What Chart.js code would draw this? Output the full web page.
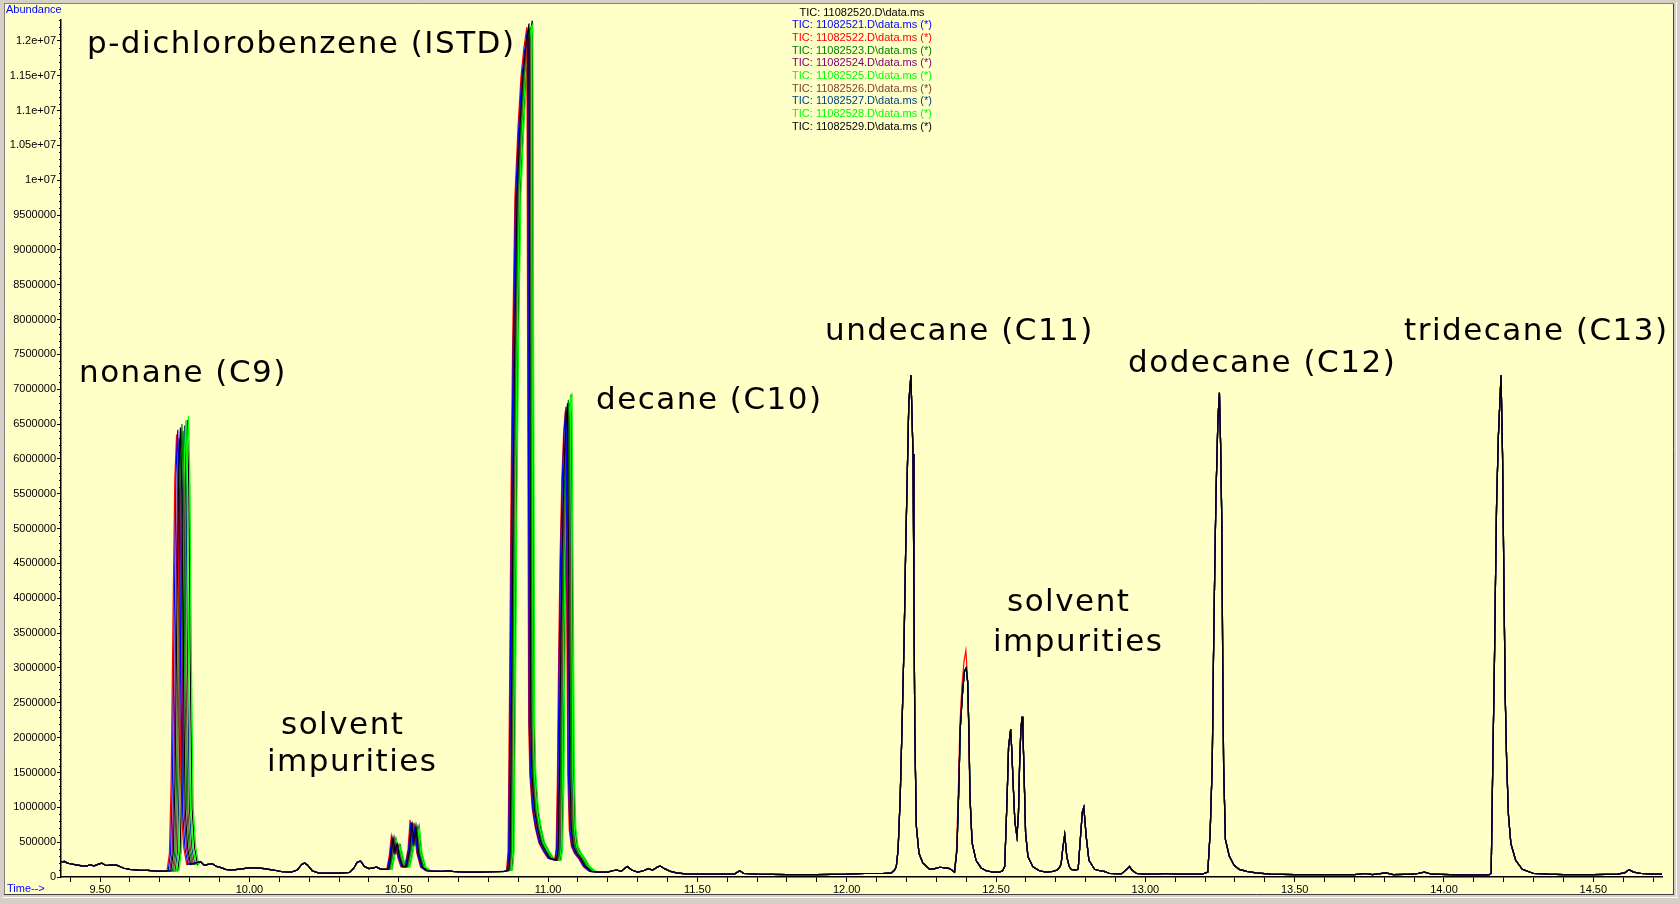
<!DOCTYPE html>
<html>
<head>
<meta charset="utf-8">
<script src="https://cdn.jsdelivr.net/npm/chart.js@4.4.1/dist/chart.umd.min.js"></script>
<style>
html,body{margin:0;padding:0;background:#d4d0c8;}
canvas{display:block;}
</style>
</head>
<body>
<canvas id="c" width="1680" height="904"></canvas>
<script>
// ---------- DATA (time in min, abundance) ----------
const fileIds = ['11082520','11082521','11082522','11082523','11082524','11082525','11082526','11082527','11082528','11082529'];
const traceColors = ['#000000','#0000ff','#ff0000','#008000','#800080','#00ff00','#804030','#004080','#00ff00','#000000'];
const xTickStep = 0.1;
const xLabelStep = 0.5;
const yTickStep = 500000;
const yMinorStep = 100000;

// shared baseline before nonane
const baseLead = [[9.369,2.15e5],[9.38,2.25e5],[9.39,2.0e5],[9.40,1.9e5],[9.42,1.75e5],[9.44,1.6e5],[9.455,1.55e5],[9.465,1.75e5],[9.48,1.6e5],[9.495,1.85e5],[9.505,2.0e5],[9.52,1.65e5],[9.54,1.75e5],[9.555,1.7e5],[9.58,1.25e5],[9.60,1.1e5],[9.63,1.0e5],[9.66,9.5e4],[9.69,8.5e4],[9.715,8.5e4]];

// nonane peak, one array per run
const nonane22 = [[9.724,9e4],[9.732,3.4e5],[9.738,1.4e6],[9.744,3.7e6],[9.750,5.7e6],[9.756,6.35e6],[9.761,5.4e6],[9.766,2.9e6],[9.772,9.5e5],[9.780,4.2e5],[9.790,1.8e5]];
const nonane21 = [[9.728,9e4],[9.736,3.5e5],[9.742,1.4e6],[9.748,3.7e6],[9.754,5.8e6],[9.760,6.42e6],[9.765,5.5e6],[9.770,2.9e6],[9.776,9.6e5],[9.784,4.2e5],[9.794,1.8e5]];
const nonane24 = [[9.733,9e4],[9.741,3.4e5],[9.747,1.4e6],[9.753,3.65e6],[9.759,5.67e6],[9.765,6.3e6],[9.770,5.35e6],[9.775,2.85e6],[9.781,9.5e5],[9.789,4.2e5],[9.799,1.8e5]];
const nonane20 = [[9.737,9e4],[9.745,3.5e5],[9.751,1.42e6],[9.757,3.74e6],[9.763,5.8e6],[9.769,6.45e6],[9.774,5.48e6],[9.779,2.9e6],[9.785,9.7e5],[9.793,4.2e5],[9.803,1.8e5]];
const nonane23 = [[9.742,9e4],[9.750,3.5e5],[9.756,1.43e6],[9.762,3.77e6],[9.768,5.85e6],[9.774,6.5e6],[9.779,5.52e6],[9.784,2.92e6],[9.790,9.8e5],[9.798,4.2e5],[9.808,1.8e5]];
const nonane26 = [[9.746,9e4],[9.754,3.5e5],[9.760,1.41e6],[9.766,3.71e6],[9.772,5.76e6],[9.778,6.4e6],[9.783,5.44e6],[9.788,2.88e6],[9.794,9.6e5],[9.802,4.2e5],[9.812,1.8e5]];
const nonane27 = [[9.751,9e4],[9.759,3.5e5],[9.765,1.43e6],[9.771,3.76e6],[9.777,5.83e6],[9.783,6.48e6],[9.788,5.5e6],[9.793,2.92e6],[9.799,9.7e5],[9.807,4.2e5],[9.817,1.8e5]];
const nonane25 = [[9.755,9e4],[9.763,3.6e5],[9.769,1.44e6],[9.775,3.8e6],[9.781,5.9e6],[9.787,6.55e6],[9.792,5.57e6],[9.797,2.95e6],[9.803,9.8e5],[9.811,4.3e5],[9.821,1.8e5]];
const nonane29 = [[9.760,9e4],[9.768,3.6e5],[9.774,1.44e6],[9.780,3.8e6],[9.786,5.9e6],[9.792,6.56e6],[9.797,5.58e6],[9.802,2.95e6],[9.808,9.8e5],[9.816,4.3e5],[9.826,1.8e5]];
const nonane28 = [[9.764,9e4],[9.772,3.6e5],[9.778,1.46e6],[9.784,3.84e6],[9.790,5.96e6],[9.796,6.62e6],[9.801,5.63e6],[9.806,2.98e6],[9.812,9.9e5],[9.820,4.3e5],[9.830,1.8e5]];

// shared baseline between nonane and the solvent impurities
const baseMid = [[9.836,2.2e5],[9.848,1.7e5],[9.862,1.8e5],[9.876,1.9e5],[9.89,1.5e5],[9.905,1.35e5],[9.92,1.1e5],[9.94,1.0e5],[9.96,1.1e5],[9.98,1.2e5],[10.0,1.3e5],[10.02,1.3e5],[10.05,1.2e5],[10.08,1.0e5],[10.11,7.5e4],[10.14,7e4],[10.16,1.0e5],[10.175,1.8e5],[10.185,2.0e5],[10.195,1.7e5],[10.21,9e4],[10.23,6e4],[10.26,5.5e4],[10.30,5.5e4],[10.335,6.5e4],[10.35,1.3e5],[10.36,2.1e5],[10.372,2.3e5],[10.385,1.5e5],[10.40,1.2e5],[10.415,1.3e5],[10.425,1.45e5],[10.435,1.2e5],[10.445,1.1e5]];

// solvent impurity cluster (10.45 - 10.60), one per run
const imp22 = [[10.460,1.1e5],[10.468,3.0e5],[10.475,5.8e5],[10.482,3.6e5],[10.489,4.8e5],[10.497,2.8e5],[10.507,1.5e5],[10.520,1.5e5],[10.531,4.0e5],[10.538,8.2e5],[10.545,5.0e5],[10.552,7.2e5],[10.560,3.5e5],[10.573,1.4e5],[10.590,9e4]];
const imp21 = [[10.462,1.1e5],[10.470,3.0e5],[10.477,5.5e5],[10.484,3.6e5],[10.491,4.6e5],[10.499,2.8e5],[10.509,1.5e5],[10.522,1.5e5],[10.533,4.0e5],[10.540,7.8e5],[10.547,5.0e5],[10.554,7.0e5],[10.562,3.5e5],[10.575,1.4e5],[10.592,9e4]];
const imp24 = [[10.464,1.1e5],[10.472,3.0e5],[10.479,5.3e5],[10.486,3.5e5],[10.493,4.5e5],[10.501,2.8e5],[10.511,1.5e5],[10.524,1.5e5],[10.535,3.9e5],[10.542,7.5e5],[10.549,4.9e5],[10.556,6.8e5],[10.564,3.4e5],[10.577,1.4e5],[10.594,9e4]];
const imp20 = [[10.466,1.1e5],[10.474,3.0e5],[10.481,5.6e5],[10.488,3.6e5],[10.495,4.7e5],[10.503,2.8e5],[10.513,1.5e5],[10.526,1.5e5],[10.537,4.0e5],[10.544,7.9e5],[10.551,5.0e5],[10.558,7.2e5],[10.566,3.5e5],[10.579,1.4e5],[10.596,9e4]];
const imp23 = [[10.468,1.1e5],[10.476,2.9e5],[10.483,5.2e5],[10.490,3.5e5],[10.497,4.4e5],[10.505,2.7e5],[10.515,1.5e5],[10.528,1.5e5],[10.539,3.9e5],[10.546,7.4e5],[10.553,4.9e5],[10.560,6.7e5],[10.568,3.4e5],[10.581,1.4e5],[10.598,9e4]];
const imp26 = [[10.470,1.1e5],[10.478,3.0e5],[10.485,5.4e5],[10.492,3.5e5],[10.499,4.5e5],[10.507,2.8e5],[10.517,1.5e5],[10.530,1.5e5],[10.541,3.9e5],[10.548,7.6e5],[10.555,4.9e5],[10.562,6.9e5],[10.570,3.4e5],[10.583,1.4e5],[10.600,9e4]];
const imp27 = [[10.472,1.1e5],[10.480,3.0e5],[10.487,5.5e5],[10.494,3.6e5],[10.501,4.6e5],[10.509,2.8e5],[10.519,1.5e5],[10.532,1.5e5],[10.543,4.0e5],[10.550,7.7e5],[10.557,5.0e5],[10.564,7.0e5],[10.572,3.5e5],[10.585,1.4e5],[10.602,9e4]];
const imp25 = [[10.474,1.1e5],[10.482,2.9e5],[10.489,5.0e5],[10.496,3.4e5],[10.503,4.3e5],[10.511,2.7e5],[10.521,1.5e5],[10.534,1.5e5],[10.545,3.8e5],[10.552,7.2e5],[10.559,4.8e5],[10.566,6.6e5],[10.574,3.4e5],[10.587,1.4e5],[10.604,9e4]];
const imp29 = [[10.476,1.1e5],[10.484,3.0e5],[10.491,5.3e5],[10.498,3.5e5],[10.505,4.5e5],[10.513,2.8e5],[10.523,1.5e5],[10.536,1.5e5],[10.547,3.9e5],[10.554,7.5e5],[10.561,4.9e5],[10.568,7.1e5],[10.576,3.5e5],[10.589,1.4e5],[10.606,9e4]];
const imp28 = [[10.478,1.1e5],[10.486,2.9e5],[10.493,5.1e5],[10.500,3.4e5],[10.507,4.4e5],[10.515,2.7e5],[10.525,1.5e5],[10.538,1.5e5],[10.549,3.8e5],[10.556,7.3e5],[10.563,4.8e5],[10.570,6.8e5],[10.578,3.4e5],[10.591,1.4e5],[10.608,9e4]];

// shared baseline before the ISTD
const baseGap = [[10.615,8.5e4],[10.65,8e4],[10.665,9e4],[10.68,8e4],[10.72,7e4],[10.77,7e4],[10.82,7.5e4],[10.855,8e4]];

// p-dichlorobenzene (ISTD) and decane, one per run
const istd22 = [[10.861,1e5],[10.866,3.7e5],[10.871,2.68e6],[10.876,5.5e6],[10.881,7.56e6],[10.889,9.76e6],[10.899,1.074e7],[10.909,1.147e7],[10.919,1.19e7],[10.925,1.208e7],[10.929,1.22e7],[10.932,6.7e6],[10.935,2.2e6],[10.939,1.46e6],[10.947,9.8e5],[10.957,7.1e5],[10.969,4.9e5],[10.984,3.7e5],[10.999,2.7e5],
  [11.022,2.4e5],[11.027,4.0e5],[11.031,1.34e6],[11.035,3.02e6],[11.040,4.56e6],[11.046,5.7e6],[11.052,6.37e6],[11.058,6.7e6],[11.062,4.15e6],[11.066,1.47e6],[11.071,6.7e5],[11.078,4.4e5],[11.088,3.4e5],[11.103,2.6e5],[11.118,1.5e5],[11.138,8e4]];
const istd21 = [[10.863,1e5],[10.868,3.6e5],[10.873,2.67e6],[10.878,5.47e6],[10.883,7.53e6],[10.891,9.72e6],[10.901,1.069e7],[10.911,1.142e7],[10.921,1.185e7],[10.927,1.203e7],[10.931,1.215e7],[10.934,6.7e6],[10.937,2.2e6],[10.941,1.46e6],[10.949,9.7e5],[10.959,7e5],[10.971,4.9e5],[10.986,3.7e5],[11.001,2.7e5],
  [11.024,2.4e5],[11.029,4.05e5],[11.033,1.35e6],[11.037,3.04e6],[11.042,4.59e6],[11.048,5.74e6],[11.054,6.41e6],[11.060,6.75e6],[11.064,4.19e6],[11.068,1.49e6],[11.073,6.8e5],[11.080,4.4e5],[11.090,3.4e5],[11.105,2.6e5],[11.120,1.5e5],[11.140,8e4]];
const istd24 = [[10.865,1e5],[10.870,3.6e5],[10.875,2.66e6],[10.880,5.45e6],[10.885,7.5e6],[10.893,9.68e6],[10.903,1.065e7],[10.913,1.137e7],[10.923,1.18e7],[10.929,1.198e7],[10.933,1.21e7],[10.936,6.65e6],[10.939,2.18e6],[10.943,1.45e6],[10.951,9.7e5],[10.961,7e5],[10.973,4.8e5],[10.988,3.6e5],[11.003,2.65e5],
  [11.027,2.4e5],[11.032,4e5],[11.036,1.33e6],[11.040,2.99e6],[11.045,4.52e6],[11.051,5.65e6],[11.057,6.32e6],[11.063,6.65e6],[11.067,4.12e6],[11.071,1.46e6],[11.076,6.7e5],[11.083,4.3e5],[11.093,3.3e5],[11.108,2.5e5],[11.123,1.5e5],[11.143,8e4]];
const istd20 = [[10.868,1e5],[10.873,3.7e5],[10.878,2.7e6],[10.883,5.51e6],[10.888,7.6e6],[10.896,9.8e6],[10.906,1.078e7],[10.916,1.152e7],[10.926,1.194e7],[10.932,1.213e7],[10.936,1.225e7],[10.939,6.74e6],[10.942,2.2e6],[10.946,1.47e6],[10.954,9.8e5],[10.964,7.1e5],[10.976,4.9e5],[10.991,3.7e5],[11.006,2.7e5],
  [11.029,2.4e5],[11.034,4.1e5],[11.038,1.36e6],[11.042,3.06e6],[11.047,4.62e6],[11.053,5.78e6],[11.059,6.46e6],[11.065,6.8e6],[11.069,4.22e6],[11.073,1.5e6],[11.078,6.8e5],[11.085,4.4e5],[11.095,3.4e5],[11.110,2.6e5],[11.125,1.5e5],[11.145,8e4]];
const istd23 = [[10.870,1e5],[10.875,3.7e5],[10.880,2.68e6],[10.885,5.48e6],[10.890,7.55e6],[10.898,9.74e6],[10.908,1.072e7],[10.918,1.145e7],[10.928,1.188e7],[10.934,1.206e7],[10.938,1.218e7],[10.941,6.7e6],[10.944,2.19e6],[10.948,1.46e6],[10.956,9.7e5],[10.966,7.1e5],[10.978,4.9e5],[10.993,3.7e5],[11.008,2.7e5],
  [11.032,2.4e5],[11.037,4.1e5],[11.041,1.37e6],[11.045,3.08e6],[11.050,4.66e6],[11.056,5.82e6],[11.062,6.51e6],[11.068,6.85e6],[11.072,4.25e6],[11.076,1.51e6],[11.081,6.9e5],[11.088,4.5e5],[11.098,3.4e5],[11.113,2.6e5],[11.128,1.5e5],[11.148,8e4]];
const istd26 = [[10.872,1e5],[10.877,3.6e5],[10.882,2.67e6],[10.887,5.45e6],[10.892,7.51e6],[10.900,9.7e6],[10.910,1.067e7],[10.920,1.139e7],[10.930,1.182e7],[10.936,1.2e7],[10.940,1.212e7],[10.943,6.67e6],[10.946,2.18e6],[10.950,1.45e6],[10.958,9.7e5],[10.968,7e5],[10.980,4.8e5],[10.995,3.6e5],[11.010,2.65e5],
  [11.034,2.4e5],[11.039,4.05e5],[11.043,1.35e6],[11.047,3.04e6],[11.052,4.59e6],[11.058,5.74e6],[11.064,6.41e6],[11.070,6.75e6],[11.074,4.19e6],[11.078,1.49e6],[11.083,6.8e5],[11.090,4.4e5],[11.100,3.4e5],[11.115,2.6e5],[11.130,1.5e5],[11.150,8e4]];
const istd27 = [[10.874,1e5],[10.879,3.7e5],[10.884,2.68e6],[10.889,5.5e6],[10.894,7.56e6],[10.902,9.76e6],[10.912,1.074e7],[10.922,1.147e7],[10.932,1.19e7],[10.938,1.208e7],[10.942,1.22e7],[10.945,6.7e6],[10.948,2.2e6],[10.952,1.46e6],[10.960,9.8e5],[10.970,7.1e5],[10.982,4.9e5],[10.997,3.7e5],[11.012,2.7e5],
  [11.036,2.4e5],[11.041,4.1e5],[11.045,1.36e6],[11.049,3.06e6],[11.054,4.62e6],[11.060,5.78e6],[11.066,6.46e6],[11.072,6.8e6],[11.076,4.22e6],[11.080,1.5e6],[11.085,6.8e5],[11.092,4.4e5],[11.102,3.4e5],[11.117,2.6e5],[11.132,1.5e5],[11.152,8e4]];
const istd25 = [[10.876,1e5],[10.881,3.7e5],[10.886,2.69e6],[10.891,5.5e6],[10.896,7.58e6],[10.904,9.78e6],[10.914,1.075e7],[10.924,1.149e7],[10.934,1.191e7],[10.940,1.21e7],[10.944,1.222e7],[10.947,6.72e6],[10.950,2.2e6],[10.954,1.47e6],[10.962,9.8e5],[10.972,7.1e5],[10.984,4.9e5],[10.999,3.7e5],[11.014,2.7e5],
  [11.039,2.4e5],[11.044,4.1e5],[11.048,1.38e6],[11.052,3.1e6],[11.057,4.69e6],[11.063,5.87e6],[11.069,6.56e6],[11.075,6.9e6],[11.079,4.28e6],[11.083,1.52e6],[11.088,6.9e5],[11.095,4.5e5],[11.105,3.5e5],[11.120,2.6e5],[11.135,1.5e5],[11.155,8e4]];
const istd29 = [[10.879,1e5],[10.884,3.7e5],[10.889,2.7e6],[10.894,5.53e6],[10.899,7.62e6],[10.907,9.83e6],[10.917,1.082e7],[10.927,1.155e7],[10.937,1.198e7],[10.943,1.217e7],[10.947,1.229e7],[10.950,6.78e6],[10.953,2.22e6],[10.957,1.48e6],[10.965,9.9e5],[10.975,7.1e5],[10.987,4.9e5],[11.002,3.7e5],[11.017,2.7e5],
  [11.041,2.4e5],[11.046,4.2e5],[11.050,1.38e6],[11.054,3.11e6],[11.059,4.71e6],[11.065,5.88e6],[11.071,6.57e6],[11.077,6.92e6],[11.081,4.29e6],[11.085,1.52e6],[11.090,6.9e5],[11.097,4.5e5],[11.107,3.5e5],[11.122,2.6e5],[11.137,1.5e5],[11.157,8e4]];
const istd28 = [[10.881,1e5],[10.886,3.7e5],[10.891,2.7e6],[10.896,5.51e6],[10.901,7.6e6],[10.909,9.8e6],[10.919,1.078e7],[10.929,1.152e7],[10.939,1.194e7],[10.945,1.213e7],[10.949,1.225e7],[10.952,6.74e6],[10.955,2.2e6],[10.959,1.47e6],[10.967,9.8e5],[10.977,7.1e5],[10.989,4.9e5],[11.004,3.7e5],[11.019,2.7e5],
  [11.044,2.4e5],[11.049,4.2e5],[11.053,1.39e6],[11.057,3.13e6],[11.062,4.73e6],[11.068,5.91e6],[11.074,6.6e6],[11.080,6.95e6],[11.084,4.31e6],[11.088,1.53e6],[11.093,7e5],[11.100,4.5e5],[11.110,3.5e5],[11.125,2.6e5],[11.140,1.5e5],[11.160,8e4]];

// later part of the run (runs coincide here), split around the 12.40 impurity
const lateA = [[11.17,7e4],[11.20,7e4],[11.215,9e4],[11.23,1.0e5],[11.245,8e4],[11.255,1.2e5],[11.265,1.5e5],[11.28,1.0e5],[11.30,7e4],[11.32,9e4],[11.335,1.2e5],[11.35,1.0e5],[11.365,1.4e5],[11.375,1.6e5],[11.39,1.2e5],[11.41,8e4],[11.43,6e4],[11.46,4.5e4],[11.52,4e4],[11.58,4e4],[11.625,4.5e4],[11.642,9e4],[11.655,5e4],[11.70,4e4],[11.80,3.5e4],[11.90,3.5e4],[12.00,4e4],[12.06,5e4],[12.12,5e4],[12.15,6e4],
  [12.160,1.0e5],[12.166,1.5e5],[12.172,3.9e5],[12.179,1.13e6],[12.185,2.12e6],[12.192,3.36e6],[12.197,4.6e6],[12.203,5.83e6],[12.208,6.82e6],[12.215,7.2e6],[12.222,6.07e6],[12.225,4.1e6],[12.228,2.12e6],[12.233,7.4e5],[12.242,3.4e5],[12.255,2.0e5],[12.278,1.1e5],[12.295,1.2e5],[12.311,1.4e5],[12.33,1.3e5],[12.345,1.2e5],[12.361,7e4]];
const peak1240 = [[12.369,3.9e5],[12.376,1.37e6],[12.380,2.12e6],[12.387,2.6e6],[12.394,2.95e6],[12.400,3.0e6],[12.405,2.8e6],[12.409,2.12e6],[12.413,1.13e6],[12.420,4.9e5]];
const peak1240Red = [[12.368,4.2e5],[12.375,1.45e6],[12.379,2.2e6],[12.386,2.75e6],[12.393,3.1e6],[12.399,3.25e6],[12.404,2.9e6],[12.408,2.2e6],[12.412,1.2e6],[12.419,5e5]];
const lateB = [[12.433,2.4e5],[12.45,1.3e5],[12.467,9e4],[12.49,7e4],[12.512,7e4],[12.522,9e4],
  [12.529,1.5e5],[12.537,1.13e6],[12.542,1.87e6],[12.549,2.12e6],[12.553,1.8e6],[12.557,1.37e6],[12.563,8e5],[12.570,5.8e5],[12.575,9e5],[12.579,1.63e6],[12.583,2.1e6],[12.587,2.3e6],[12.590,2.1e6],[12.593,1.63e6],[12.599,6.3e5],[12.607,2.9e5],[12.623,1.5e5],[12.645,9e4],[12.668,7e4],[12.69,8e4],[12.705,1.0e5],
  [12.713,1.4e5],[12.718,1.9e5],[12.724,4.3e5],[12.730,6.1e5],[12.737,2.9e5],[12.745,1.5e5],[12.752,1.1e5],[12.765,1.0e5],[12.775,1.1e5],[12.782,5.3e5],[12.789,9.3e5],[12.794,1.0e6],[12.802,5.8e5],[12.811,2.4e5],[12.83,1.1e5],[12.847,9e4],[12.86,8.5e4],[12.88,5e4],[12.92,4.5e4],[12.94,1.2e5],[12.947,1.5e5],[12.955,1.0e5],[12.97,5e4],[13.00,4e4],[13.05,4.5e4],[13.07,5e4],[13.10,4e4],[13.15,4e4],[13.19,4e4],
  [13.209,7e4],[13.217,6.4e5],[13.224,1.63e6],[13.228,3.11e6],[13.233,4.6e6],[13.237,5.58e6],[13.243,6.57e6],[13.248,6.95e6],[13.252,6.2e6],[13.256,5.09e6],[13.259,3.11e6],[13.262,1.63e6],[13.268,5.4e5],[13.281,3.0e5],[13.297,1.7e5],[13.314,1.1e5],[13.34,8e4],[13.37,6e4],[13.42,4e4],[13.50,3.5e4],[13.60,3.5e4],[13.70,3.5e4],[13.739,5e4],[13.76,3.5e4],[13.806,6e4],[13.83,3.5e4],[13.90,4e4],[13.934,7e4],[13.96,4e4],[14.05,3e4],[14.15,3e4],
  [14.158,5e4],[14.163,1.53e6],[14.169,3.11e6],[14.172,4.1e6],[14.176,5.33e6],[14.182,6.32e6],[14.191,7.2e6],[14.196,6.07e6],[14.201,4.1e6],[14.205,2.6e6],[14.210,1.63e6],[14.216,8.8e5],[14.224,4.8e5],[14.240,2.4e5],[14.262,1.1e5],[14.30,5e4],[14.35,4e4],[14.40,3.5e4],[14.50,3.5e4],[14.58,4e4],[14.605,6e4],[14.62,1.06e5],[14.635,7e4],[14.66,5e4],[14.70,4e4],[14.73,4e4]];

const nonaneRuns = [nonane20,nonane21,nonane22,nonane23,nonane24,nonane25,nonane26,nonane27,nonane28,nonane29];
const impRuns = [imp20,imp21,imp22,imp23,imp24,imp25,imp26,imp27,imp28,imp29];
const istdRuns = [istd20,istd21,istd22,istd23,istd24,istd25,istd26,istd27,istd28,istd29];
const peak1240Runs = [peak1240,peak1240,peak1240Red,peak1240,peak1240,peak1240,peak1240,peak1240,peak1240,peak1240];

// ---------- BUILD ----------
const toXY = arr => arr.map(p => ({x:p[0], y:p[1]}));
const datasets = fileIds.map((id, i) => ({
  label: 'TIC: ' + id + '.D\\data.ms' + (i > 0 ? ' (*)' : ''),
  data: toXY([].concat(baseLead, nonaneRuns[i], baseMid, impRuns[i], baseGap, istdRuns[i], lateA, peak1240Runs[i], lateB)),
  borderColor: traceColors[i],
  backgroundColor: traceColors[i],
  borderWidth: 1.2,
  pointRadius: 0,
  tension: 0,
  fill: false
}));

const annotations = [
  {text:'p-dichlorobenzene (ISTD)', x:87, y:53},
  {text:'nonane (C9)', x:79, y:382},
  {text:'decane (C10)', x:596, y:409},
  {text:'undecane (C11)', x:825, y:340},
  {text:'dodecane (C12)', x:1128, y:372},
  {text:'tridecane (C13)', x:1404, y:340},
  {text:'solvent', x:281, y:734},
  {text:'impurities', x:267, y:771},
  {text:'solvent', x:1007, y:611},
  {text:'impurities', x:993, y:651}
];

const framePlugin = {
  id: 'frame',
  beforeDraw(chart) {
    const ctx = chart.ctx;
    ctx.save();
    ctx.fillStyle = '#d4d0c8';
    ctx.fillRect(0, 0, 1680, 904);
    ctx.fillStyle = '#ffffc8';
    ctx.fillRect(5, 4, 1668, 890);
    ctx.strokeStyle = '#808080';
    ctx.lineWidth = 1;
    ctx.beginPath();
    ctx.moveTo(4.5, 4); ctx.lineTo(4.5, 894);
    ctx.moveTo(4, 3.5); ctx.lineTo(1674, 3.5);
    ctx.stroke();
    ctx.strokeStyle = '#404040';
    ctx.beginPath();
    ctx.moveTo(1673.5, 4); ctx.lineTo(1673.5, 895);
    ctx.moveTo(4, 894.5); ctx.lineTo(1674, 894.5);
    ctx.stroke();
    ctx.strokeStyle = '#ffffff';
    ctx.beginPath();
    ctx.moveTo(2, 897.5); ctx.lineTo(1678, 897.5);
    ctx.moveTo(1676.5, 2); ctx.lineTo(1676.5, 898);
    ctx.stroke();
    ctx.restore();
  }
};

const overlayPlugin = {
  id: 'overlay',
  afterDraw(chart) {
    const ctx = chart.ctx;
    const ys = chart.scales.y;
    const area = chart.chartArea;
    ctx.save();
    // minor y ticks
    ctx.strokeStyle = '#000';
    ctx.lineWidth = 1;
    ctx.beginPath();
    for (let k = 1; k * yMinorStep <= ys.max + 1; k++) {
      const v = k * yMinorStep;
      if (v % yTickStep === 0) continue;
      const py = Math.round(ys.getPixelForValue(v)) + 0.5;
      ctx.moveTo(area.left - 2, py); ctx.lineTo(area.left, py);
    }
    ctx.stroke();
    // axis captions
    ctx.fillStyle = '#0000ff';
    ctx.font = '11px "Liberation Sans", Arial, sans-serif';
    ctx.textAlign = 'left';
    ctx.textBaseline = 'middle';
    ctx.fillText('Abundance', 6, 10);
    ctx.fillText('Time-->', 7, 889);
    // legend
    ctx.textAlign = 'center';
    chart.data.datasets.forEach((ds, i) => {
      ctx.fillStyle = ds.borderColor;
      ctx.fillText(ds.label, 862, 12.5 + i * 12.7);
    });
    // peak annotations
    ctx.fillStyle = '#000';
    ctx.font = '31px "DejaVu Sans", Verdana, sans-serif';
    ctx.textAlign = 'left';
    ctx.textBaseline = 'alphabetic';
    try { ctx.letterSpacing = '1.5px'; } catch (e) {}
    annotations.forEach(a => ctx.fillText(a.text, a.x, a.y));
    ctx.restore();
  }
};

new Chart(document.getElementById('c'), {
  type: 'line',
  data: { datasets },
  options: {
    responsive: false,
    animation: false,
    devicePixelRatio: 1,
    layout: { padding: { top: 20, right: 18, bottom: 0, left: 0 } },
    plugins: { legend: { display: false }, tooltip: { enabled: false } },
    scales: {
      x: {
        type: 'linear', min: 9.369, max: 14.73,
        afterFit(s) { s.height = 27; },
        afterBuildTicks(s) {
          const t = [];
          for (let k = Math.ceil(s.min / xTickStep - 1e-9); k * xTickStep <= s.max + 1e-9; k++) t.push({ value: Math.round(k * xTickStep * 100) / 100 });
          s.ticks = t;
        },
        ticks: {
          autoSkip: false, maxRotation: 0, padding: 1,
          color: '#000', font: { family: '"Liberation Sans", Arial, sans-serif', size: 11 },
          callback: v => (Math.abs(v / xLabelStep - Math.round(v / xLabelStep)) < 1e-6 ? Number(v).toFixed(2) : '')
        },
        grid: { drawOnChartArea: false, tickLength: 5, tickColor: '#000', tickWidth: 1 },
        border: { color: '#000', width: 1.5 }
      },
      y: {
        min: 0, max: 1.23e7,
        afterFit(s) { s.width = 61; },
        afterBuildTicks(s) {
          const t = [];
          for (let k = 0; k * yTickStep <= s.max; k++) t.push({ value: k * yTickStep });
          s.ticks = t;
        },
        ticks: {
          autoSkip: false, padding: 1,
          color: '#000', font: { family: '"Liberation Sans", Arial, sans-serif', size: 11 },
          callback: v => (v >= 1e7 ? String(Math.round(v / 1e5) / 100) + 'e+07' : String(v))
        },
        grid: { drawOnChartArea: false, tickLength: 4, tickColor: '#000', tickWidth: 1 },
        border: { color: '#000', width: 1.5 }
      }
    }
  },
  plugins: [framePlugin, overlayPlugin]
});
</script>
</body>
</html>
